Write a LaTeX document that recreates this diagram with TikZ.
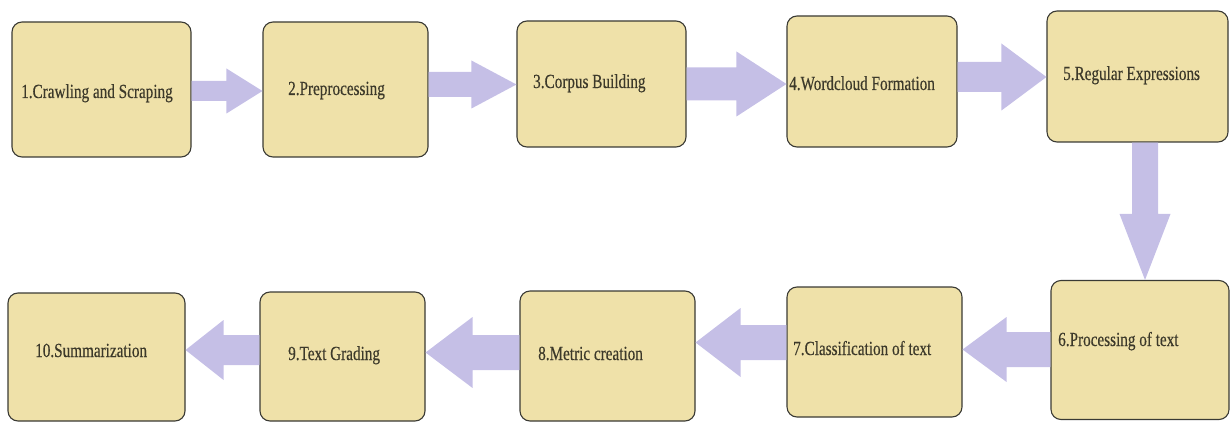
\documentclass[tikz,border=0pt]{standalone}
\usepackage{fontspec}
\newfontfamily\condserif[FakeStretch=0.76,FakeBold=0.35]{Liberation Serif}
\usetikzlibrary{calc}
\definecolor{boxfill}{RGB}{239,225,169}
\definecolor{boxline}{RGB}{58,58,52}
\definecolor{arrowc}{RGB}{197,191,230}
\definecolor{txtc}{RGB}{60,57,42}
\tikzset{
  stepbox/.style={draw=boxline, line width=1.1pt, fill=boxfill, rounded corners=10pt, inner sep=0pt},
  lbl/.style={font=\condserif\fontsize{20}{22}\selectfont, text=txtc, inner sep=0pt, anchor=base west},
}
\newcommand\rarr[5]{\fill[arrowc] let \p1=(#1), \p2=(#2) in
  (\x1,\y2+#3) -- (\x2-#5,\y2+#3) -- (\x2-#5,\y2+#4) -- (\x2,\y2) --
  (\x2-#5,\y2-#4) -- (\x2-#5,\y2-#3) -- (\x1,\y2-#3) -- cycle;}
\newcommand\larr[5]{\fill[arrowc] let \p1=(#1), \p2=(#2) in
  (\x1,\y2+#3) -- (\x2+#5,\y2+#3) -- (\x2+#5,\y2+#4) -- (\x2,\y2) --
  (\x2+#5,\y2-#4) -- (\x2+#5,\y2-#3) -- (\x1,\y2-#3) -- cycle;}
\newcommand\darr[5]{\fill[arrowc] let \p1=(#1), \p2=(#2) in
  (\x2-#3,\y1) -- (\x2-#3,\y2+#5) -- (\x2-#4,\y2+#5) -- (\x2,\y2) --
  (\x2+#4,\y2+#5) -- (\x2+#3,\y2+#5) -- (\x2+#3,\y1) -- cycle;}
\begin{document}
\begin{tikzpicture}[x=1pt,y=-1pt]
\useasboundingbox (0,0) rectangle (1230,422);
% boxes
\node[stepbox, minimum width=179pt, minimum height=135pt] (b1) at (101.5,89.5) {};
\node[stepbox, minimum width=165pt, minimum height=135pt] (b2) at (345.5,89.5) {};
\node[stepbox, minimum width=169pt, minimum height=126pt] (b3) at (601.5,84) {};
\node[stepbox, minimum width=170pt, minimum height=131pt] (b4) at (872,81.5) {};
\node[stepbox, minimum width=181pt, minimum height=131pt] (b5) at (1137.5,76.5) {};
\node[stepbox, minimum width=178pt, minimum height=139pt] (b6) at (1140,350) {};
\node[stepbox, minimum width=175pt, minimum height=130pt] (b7) at (874.5,352) {};
\node[stepbox, minimum width=175pt, minimum height=130pt] (b8) at (607.5,356) {};
\node[stepbox, minimum width=165pt, minimum height=129pt] (b9) at (342.5,356.5) {};
\node[stepbox, minimum width=177pt, minimum height=128pt] (b10) at (96.5,357) {};
% labels
\node[lbl] (t1) at (21,98) {1.Crawling and Scraping};
\node[lbl] (t2) at (288,95) {2.Preprocessing};
\node[lbl] (t3) at (533,88) {3.Corpus Building};
\node[lbl] (t4) at (789,90) {4.Wordcloud Formation};
\node[lbl] (t5) at (1063,80) {5.Regular Expressions};
\node[lbl] (t6) at (1058,346) {6.Processing of text};
\node[lbl] (t7) at (793,355) {7.Classification of text};
\node[lbl] (t8) at (538,360) {8.Metric creation};
\node[lbl] (t9) at (288,360) {9.Text Grading};
\node[lbl] (t10) at (35,357) {10.Summarization};
% block arrows
\rarr{b1.east}{b2.west |- 0,91}{10pt}{22.5pt}{36pt}
\rarr{b2.east}{b3.west |- 0,84.5}{12.5pt}{24pt}{45pt}
\rarr{b3.east}{b4.west |- 0,84}{16.5pt}{32.5pt}{50pt}
\rarr{b4.east}{b5.west |- 0,77}{15pt}{33.5pt}{45pt}
\darr{b5.south}{b6.north -| 1145,0}{13pt}{25.5pt}{66pt}
\larr{b6.west}{b7.east |- 0,349.5}{17.5pt}{32.5pt}{44pt}
\larr{b7.west}{b8.east |- 0,342.5}{17.5pt}{34.5pt}{45pt}
\larr{b8.west}{b9.east |- 0,352.5}{17.5pt}{35.5pt}{47pt}
\larr{b9.west}{b10.east |- 0,350}{15pt}{30pt}{38pt}
\end{tikzpicture}
\end{document}
